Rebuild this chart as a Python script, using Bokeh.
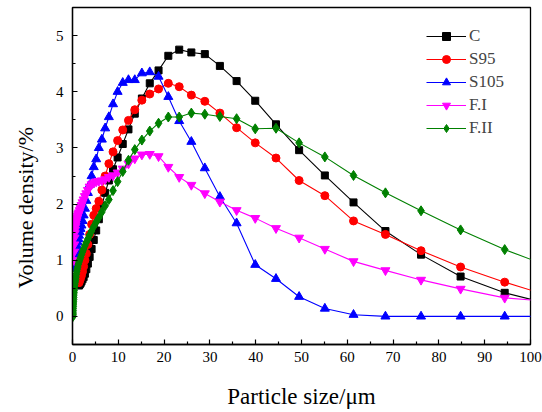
import math
from bokeh.plotting import figure
from bokeh.models import ColumnDataSource, Legend, LegendItem, Title, Range1d, FixedTicker
from bokeh.embed import file_html
from bokeh.resources import INLINE

# particle size grid (um)
size_grid = [0.10, 0.11, 0.12, 0.13, 0.15, 0.17, 0.18, 0.21, 0.23, 0.26,
             0.28, 0.32, 0.35, 0.39, 0.44, 0.49, 0.54, 0.60, 0.67, 0.75,
             0.83, 0.92, 1.03, 1.15, 1.28, 1.42, 1.58, 1.76, 1.96, 2.19,
             2.43, 2.71, 3.02, 3.36, 3.74, 4.17, 4.64, 5.17, 5.75, 6.41,
             7.13, 7.94, 8.85, 9.85, 10.97, 12.22, 13.60, 15.15, 16.87, 18.79,
             20.92, 23.30, 25.95, 28.89, 32.18, 35.83, 39.90, 44.43, 49.48, 55.10,
             61.36, 68.33, 76.10, 84.74, 94.37, 105.1]

# C (starts at 1.42 um)
c_vals = [0.55, 0.57, 0.59, 0.62, 0.66, 0.70, 0.76, 0.84, 0.94, 1.06,
          1.20, 1.36, 1.53, 1.73, 1.97, 2.20, 2.42, 2.62, 2.83, 3.07,
          3.33, 3.61, 3.88, 4.15, 4.38, 4.64, 4.75, 4.70, 4.67, 4.46,
          4.19, 3.84, 3.42, 2.96, 2.51, 2.03, 1.52, 1.10, 0.71, 0.42, 0.20]
# S95 (starts at 1.42 um)
s95_vals = [0.60, 0.64, 0.68, 0.73, 0.80, 0.89, 1.00, 1.12, 1.28, 1.46,
            1.64, 1.80, 1.92, 2.05, 2.25, 2.50, 2.72, 2.93, 3.13, 3.32,
            3.49, 3.68, 3.85, 3.96, 4.05, 4.15, 4.09, 3.94, 3.83, 3.62,
            3.36, 3.09, 2.82, 2.42, 2.15, 1.70, 1.46, 1.17, 0.88, 0.61, 0.34]
# S105 (starts at 0.49 um)
s105_vals = [0.85, 0.90, 0.95, 1.00, 1.06, 1.12, 1.18, 1.25, 1.32, 1.38,
             1.44, 1.50, 1.56, 1.62, 1.70, 1.80, 1.92, 2.06, 2.20, 2.34,
             2.50, 2.66, 2.80, 3.00, 3.15, 3.35, 3.55, 3.78, 4.00, 4.16,
             4.21, 4.21, 4.33, 4.35, 4.27, 3.91, 3.48, 3.11, 2.64, 2.13,
             1.66, 0.92, 0.67, 0.35, 0.14, 0.03, 0.0, 0.0, 0.0, 0.0, 0.0]
# F.I (starts at 0.32 um)
fi_vals = [1.00, 1.15, 1.28, 1.40, 1.48, 1.54, 1.59, 1.63, 1.67, 1.70,
           1.73, 1.76, 1.79, 1.82, 1.85, 1.89, 1.93, 1.98, 2.03, 2.08,
           2.14, 2.19, 2.25, 2.31, 2.35, 2.38, 2.40, 2.41, 2.42, 2.44,
           2.48, 2.51, 2.56, 2.63, 2.72, 2.81, 2.88, 2.89, 2.85, 2.66,
           2.48, 2.34, 2.19, 2.04, 1.89, 1.75, 1.57, 1.40, 1.20, 0.98,
           0.82, 0.65, 0.49, 0.33, 0.26]
# F.II (starts at 0.10 um)
fii_vals = [0.00, 0.03, 0.06, 0.10, 0.14, 0.18, 0.22, 0.26, 0.30, 0.34,
            0.38, 0.42, 0.46, 0.50, 0.54, 0.57, 0.60, 0.63, 0.66, 0.70,
            0.75, 0.80, 0.84, 0.88, 0.93, 0.97, 1.01, 1.05, 1.10, 1.15,
            1.20, 1.26, 1.32, 1.38, 1.45, 1.52, 1.60, 1.68, 1.76, 1.86,
            1.97, 2.08, 2.24, 2.40, 2.58, 2.78, 2.97, 3.14, 3.30, 3.44,
            3.55, 3.55, 3.62, 3.60, 3.56, 3.52, 3.34, 3.35, 3.09, 2.84,
            2.51, 2.20, 1.88, 1.54, 1.19, 0.86]

series_names = ["C", "S95", "S105", "F.I", "F.II"]
series_vals = [c_vals, s95_vals, s105_vals, fi_vals, fii_vals]
series_colors = ["#000000", "#FF0000", "#0000FF", "#FF00FF", "#008000"]
series_markers = ["square", "circle", "triangle", "inverted_triangle", "diamond"]
series_sizes = [7, 8, 9, 9, 10]

x_ticks = [0, 10, 20, 30, 40, 50, 60, 70, 80, 90, 100]
y_ticks = [0, 1, 2, 3, 4, 5]

FONT = "Liberation Serif"

p = figure(width=542, height=412, output_backend="svg", toolbar_location=None,
           x_range=Range1d(0, 100), y_range=Range1d(-0.5, 5.5),
           min_border_left=72, min_border_right=12, min_border_top=7,
           min_border_bottom=68)
p.grid.visible = False
p.outline_line_color = "black"
p.outline_line_width = 1.3
p.background_fill_color = "white"
p.border_fill_color = "white"

items = []
for name, vals, col, mk, sz in zip(series_names, series_vals, series_colors,
                                   series_markers, series_sizes):
    xs = size_grid[len(size_grid) - len(vals):]
    src = ColumnDataSource(dict(x=xs, y=vals))
    r1 = p.line("x", "y", source=src, line_color=col, line_width=1.1)
    r2 = p.scatter("x", "y", source=src, marker=mk, size=sz,
                   fill_color=col, line_color=col)
    items.append(LegendItem(label=name, renderers=[r1, r2]))

legend = Legend(items=items, location=(354, 206), padding=0, margin=0,
                glyph_width=40, glyph_height=20, spacing=3, label_standoff=3,
                label_text_font=FONT, label_text_font_size="17px",
                border_line_color=None, background_fill_alpha=0)
p.add_layout(legend, "center")

for ax in (p.xaxis[0], p.yaxis[0]):
    ax.axis_line_width = 1.3
    ax.major_tick_in = 5
    ax.major_tick_out = 0
    ax.minor_tick_in = 3
    ax.minor_tick_out = 0
    ax.major_tick_line_width = 1.2
    ax.minor_tick_line_width = 1.2
    ax.major_label_text_font = FONT
    ax.major_label_text_font_size = "15px"
    ax.major_label_text_color = "black"

p.xaxis[0].ticker = FixedTicker(ticks=x_ticks, minor_ticks=[v + 5 for v in x_ticks[:-1]])
p.yaxis[0].ticker = FixedTicker(ticks=y_ticks,
                                minor_ticks=[-0.5] + [v + 0.5 for v in y_ticks])
p.xaxis[0].major_label_standoff = 7
p.yaxis[0].major_label_standoff = 9

p.xaxis[0].axis_label = "Particle size/\u03bcm"
p.xaxis[0].axis_label_text_font = FONT
p.xaxis[0].axis_label_text_font_size = "23px"
p.xaxis[0].axis_label_text_font_style = "normal"
p.xaxis[0].axis_label_text_color = "black"
p.xaxis[0].axis_label_standoff = 19

ytitle = Title(text="Volume density/%", align="left", offset=56,
               vertical_align="top", standoff=25,
               text_font=FONT, text_font_size="22px",
               text_font_style="normal", text_color="black")
p.add_layout(ytitle, "left")

open("out.html", "w").write(file_html(p, INLINE))
